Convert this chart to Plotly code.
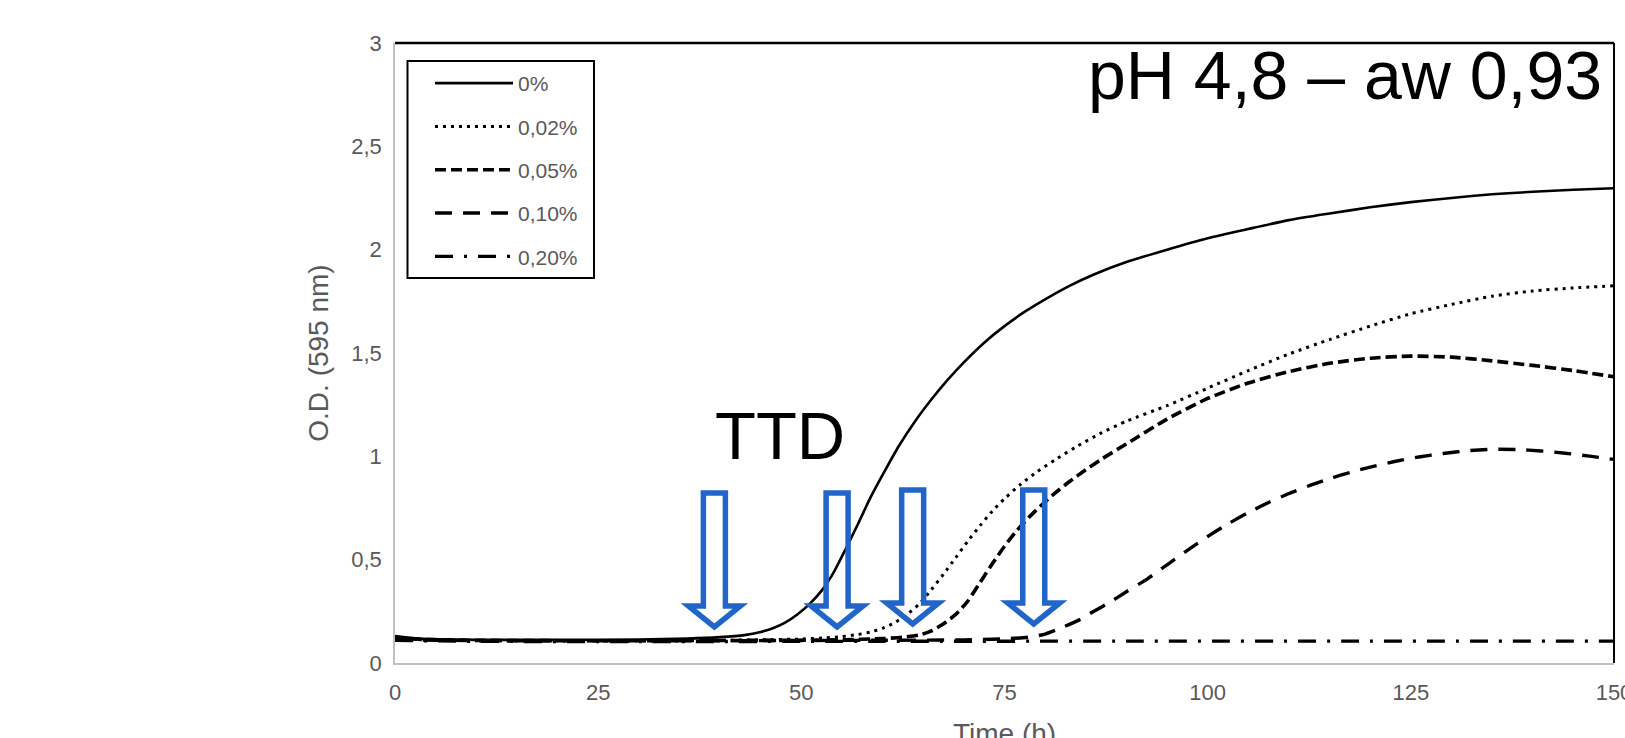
import plotly.graph_objects as go

# ---------------- data ----------------
series_names = ["0%", "0,02%", "0,05%", "0,10%", "0,20%"]

t_0 = [0, 3, 10, 20, 30, 36, 40, 43, 45, 46.5, 48, 49.5, 51, 52.5, 54, 55.5, 57, 58.5, 60, 62,
       64, 66, 68, 70, 72.5, 75, 77.5, 80, 83, 86, 90, 95, 100, 105, 110, 115, 120, 125, 130,
       135, 140, 145, 150]
od_0 = [0.130, 0.118, 0.112, 0.112, 0.114, 0.118, 0.125, 0.135, 0.150, 0.168, 0.195, 0.235, 0.285,
        0.350, 0.440, 0.555, 0.675, 0.800, 0.910, 1.050, 1.170, 1.275, 1.370, 1.455, 1.550, 1.630,
        1.700, 1.760, 1.825, 1.880, 1.940, 2.000, 2.055, 2.100, 2.143, 2.175, 2.205, 2.230, 2.250,
        2.268, 2.280, 2.290, 2.297]

t_002 = [0, 3, 10, 20, 30, 40, 45, 50, 53, 55, 57, 58.5, 60, 61.5, 63, 64.5, 66, 67.5, 69, 70.5,
         72, 73.5, 75, 77, 79, 81.5, 84, 87, 90, 95, 100, 105, 110, 115, 120, 125, 130, 135, 140,
         145, 150]
od_002 = [0.120, 0.113, 0.108, 0.108, 0.108, 0.110, 0.112, 0.116, 0.122, 0.128, 0.138, 0.150, 0.168,
          0.195, 0.235, 0.285, 0.355, 0.430, 0.510, 0.590, 0.665, 0.735, 0.795, 0.865, 0.925, 0.990,
          1.050, 1.115, 1.170, 1.245, 1.330, 1.415, 1.495, 1.565, 1.630, 1.690, 1.735, 1.775, 1.800,
          1.815, 1.825]

t_005 = [0, 3, 10, 20, 30, 40, 50, 55, 60, 62.5, 64.5, 66, 67.5, 69, 70.5, 72, 73.5, 75, 76.5, 78,
         79.5, 81, 83, 85, 87, 90, 95, 100, 105, 110, 115, 120, 125, 130, 135, 140, 145, 150]
od_005 = [0.125, 0.115, 0.110, 0.108, 0.108, 0.109, 0.110, 0.112, 0.118, 0.125, 0.135, 0.155, 0.190,
          0.235, 0.300, 0.390, 0.480, 0.565, 0.640, 0.705, 0.762, 0.815, 0.878, 0.935, 0.988, 1.060,
          1.180, 1.280, 1.355, 1.410, 1.450, 1.475, 1.485, 1.480, 1.462, 1.440, 1.415, 1.385]

t_010 = [0, 3, 10, 20, 30, 40, 50, 60, 70, 75, 78, 80, 82, 84, 86, 88, 90, 92.5, 95, 97.5, 100,
         102.5, 105, 107.5, 110, 112.5, 115, 117.5, 120, 123, 126, 129, 132, 135, 138, 141, 144,
         147, 150]
od_010 = [0.118, 0.112, 0.108, 0.107, 0.107, 0.108, 0.109, 0.110, 0.112, 0.117, 0.125, 0.140, 0.170,
          0.205, 0.250, 0.295, 0.345, 0.405, 0.475, 0.545, 0.612, 0.673, 0.728, 0.777, 0.820, 0.858,
          0.892, 0.922, 0.948, 0.975, 0.997, 1.014, 1.027, 1.034, 1.033, 1.026, 1.015, 1.001, 0.985]

t_020 = [0, 10, 30, 60, 90, 120, 150]
od_020 = [0.110, 0.105, 0.104, 0.105, 0.106, 0.106, 0.106]

ttd_hours = [39.3, 54.4, 63.7, 78.6]

x_ticks = [0, 25, 50, 75, 100, 125, 150]
y_ticks = [0, 0.5, 1, 1.5, 2, 2.5, 3]

title_text = "pH 4,8 – aw 0,93"
ttd_text = "TTD"

# ---------------- layout constants ----------------
W, H = 1625, 738
M_L, M_R, M_T, M_B = 395, 11, 43, 75
X_MAX, Y_MAX = 150, 3
PW, PH = W - M_L - M_R, H - M_T - M_B
PX_X = PW / X_MAX
PX_Y = PH / Y_MAX


def px_to_paper_x(px):
    return (px - M_L) / PW


def px_to_paper_y(py):
    return (H - M_B - py) / PH


FONT = "Liberation Sans, Arial, sans-serif"
GREY = "#595959"
BLUE = "#2165C9"

styles = [
    dict(dash="solid", width=2.6),
    dict(dash="3px,5px", width=3),
    dict(dash="11px,5px", width=3.6),
    dict(dash="17px,11px", width=3.4),
    dict(dash="18px,11px,3px,11px", width=3.4),
]
series = [(t_0, od_0), (t_002, od_002), (t_005, od_005), (t_010, od_010), (t_020, od_020)]

fig = go.Figure()
for name, (tx, oy), st in zip(series_names, series, styles):
    fig.add_trace(go.Scatter(
        x=tx, y=oy, mode="lines", name=name, legendgroup=name,
        line=dict(color="black", width=st["width"], dash=st["dash"], shape="spline", smoothing=0.6),
        hoverinfo="skip",
    ))

shapes = []
# legend frame (drawn as a rectangle behind the native legend)
shapes.append(dict(type="rect", xref="paper", yref="paper",
                   x0=px_to_paper_x(407.5), x1=px_to_paper_x(594),
                   y0=px_to_paper_y(278), y1=px_to_paper_y(61),
                   line=dict(color="black", width=2), fillcolor="white", layer="above"))

# blue hollow arrows (TTD markers)
arrow_top_px = [493, 493, 490, 490]
arrow_tip_px = [627, 627, 624, 624]
shaft_half, head_half, head_len = 11, 26, 21
for tt, top_px, tip_px in zip(ttd_hours, arrow_top_px, arrow_tip_px):
    top = (H - M_B - top_px) / PX_Y
    tip = (H - M_B - tip_px) / PX_Y
    base = tip + head_len / PX_Y
    sw = shaft_half / PX_X
    hw = head_half / PX_X
    pts = [(tt - sw, top), (tt + sw, top), (tt + sw, base), (tt + hw, base), (tt, tip),
           (tt - hw, base), (tt - sw, base)]
    path = "M " + " L ".join(f"{px:.4f},{py:.4f}" for px, py in pts) + " Z"
    shapes.append(dict(type="path", xref="x", yref="y", path=path,
                       line=dict(color=BLUE, width=5.5), fillcolor="rgba(255,255,255,0)",
                       layer="above"))

# top and right frame lines (black)
shapes.append(dict(type="line", xref="paper", yref="paper", x0=0, x1=1, y0=1, y1=1,
                   line=dict(color="black", width=2.5)))
shapes.append(dict(type="line", xref="paper", yref="paper", x0=1, x1=1, y0=0, y1=1,
                   line=dict(color="black", width=2)))

annotations = [
    dict(text=title_text, xref="paper", yref="paper",
         x=px_to_paper_x(1604), y=px_to_paper_y(75),
         xanchor="right", yanchor="middle", showarrow=False,
         font=dict(family=FONT, size=68, color="black")),
    dict(text=ttd_text, xref="x", yref="y", x=47.4, y=1.10,
         xanchor="center", yanchor="middle", showarrow=False,
         font=dict(family=FONT, size=67, color="black")),
    dict(text="Time (h)", xref="paper", yref="paper",
         x=0.5, y=px_to_paper_y(716),
         xanchor="center", yanchor="top", showarrow=False,
         font=dict(family=FONT, size=28, color=GREY)),
]

fig.update_layout(
    width=W, height=H,
    margin=dict(l=M_L, r=M_R, t=M_T, b=M_B, autoexpand=False),
    paper_bgcolor="white", plot_bgcolor="white",
    separators=",.",
    font=dict(family=FONT, color=GREY),
    shapes=shapes, annotations=annotations,
    showlegend=True,
    legend=dict(
        x=px_to_paper_x(430), y=px_to_paper_y(63),
        xanchor="left", yanchor="top",
        bgcolor="rgba(0,0,0,0)", borderwidth=0,
        font=dict(family=FONT, size=21, color=GREY),
        itemwidth=78, tracegroupgap=13, traceorder="grouped",
    ),
)
fig.update_xaxes(
    range=[0, X_MAX], tickvals=x_ticks, showgrid=False, zeroline=False,
    showline=True, linecolor="#C0C0C0", linewidth=1.5, ticks="",
    tickfont=dict(family=FONT, size=22, color=GREY), ticklabelstandoff=9,
    ticklabeloverflow="allow",
    fixedrange=True,
)
fig.update_yaxes(
    range=[0, Y_MAX], tickvals=y_ticks, showgrid=False, zeroline=False,
    showline=True, linecolor="#C0C0C0", linewidth=1.5, ticks="",
    tickfont=dict(family=FONT, size=22, color=GREY), ticklabelstandoff=7,
    title=dict(text="O.D. (595 nm)", font=dict(family=FONT, size=28, color=GREY), standoff=14),
    fixedrange=True,
)

fig.write_html("out.html", config={"displayModeBar": False})
